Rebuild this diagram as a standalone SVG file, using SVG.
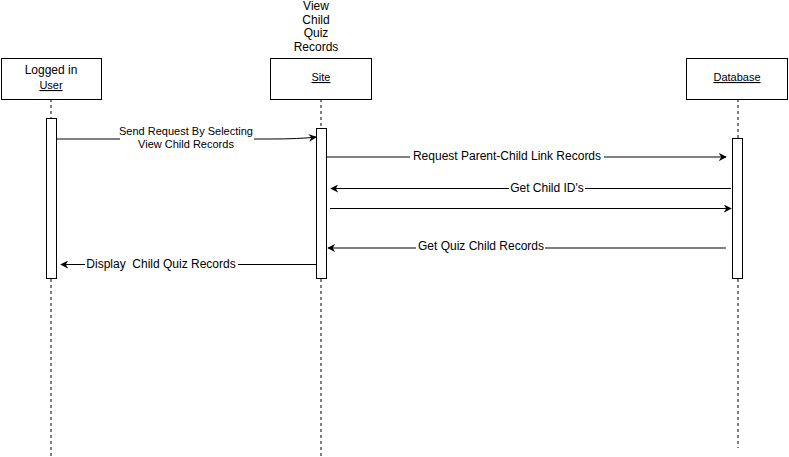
<svg xmlns="http://www.w3.org/2000/svg" width="789" height="457" viewBox="0 0 789 457">
<style>
text{font-family:"Liberation Sans",Arial,sans-serif;fill:#000;white-space:pre}
.box{fill:#fff;stroke:#000;stroke-width:1}
.life{stroke:#000;stroke-width:1;stroke-dasharray:3,3;fill:none}
.act{fill:#fff;stroke:#000;stroke-width:1}
.msg{stroke:#000;stroke-width:1;fill:none}
.gray{stroke:#808080;stroke-width:2;fill:none}
.lbl{font-size:11px;text-anchor:middle}
.big{font-size:12px;text-anchor:middle}
.bg{fill:#fff}
</style>
<defs>
<marker id="ah" viewBox="0 0 10 10" refX="9" refY="5" markerWidth="8" markerHeight="8" markerUnits="userSpaceOnUse" orient="auto">
<path d="M0,0 L10,5 L0,10 L3,5 Z" fill="#000"/>
</marker>
</defs>
<g id="lifelines">
<line class="life" x1="51" y1="99" x2="51" y2="457"/>
<line class="life" x1="321" y1="99" x2="321" y2="457"/>
<line class="life" x1="738" y1="99" x2="738" y2="448"/>
</g>
<g id="user">
<rect class="box" x="1.5" y="58.5" width="100" height="41"/>
<text class="big" x="51" y="74">Logged in</text>
<text class="lbl" x="51" y="89" text-decoration="underline">User</text>
<rect class="act" x="46.5" y="118.5" width="10" height="160"/>
</g>
<g id="site">
<text class="big" x="316" y="10">View</text>
<text class="big" x="316" y="23.5">Child</text>
<text class="big" x="316" y="37">Quiz</text>
<text class="big" x="316" y="51">Records</text>
<rect class="box" x="270.5" y="58.5" width="101" height="41"/>
<text class="lbl" x="321" y="81" text-decoration="underline">Site</text>
<rect class="act" x="316.5" y="128.5" width="10" height="150"/>
</g>
<g id="database">
<rect class="box" x="686.5" y="58.5" width="101" height="41"/>
<text class="lbl" x="737" y="81" text-decoration="underline">Database</text>
<rect class="act" x="732.5" y="138.5" width="10" height="140"/>
</g>
<g id="connectors">
<path class="msg" d="M57,139 L270,139 Q300,139 316,137" marker-end="url(#ah)"/>
<rect class="bg" x="120" y="124" width="134" height="26"/>
<text class="lbl" x="186" y="135">Send Request By Selecting</text>
<text class="lbl" x="186" y="148">View Child Records</text>
<line class="gray" x1="327" y1="157" x2="726" y2="157" marker-end="url(#ah)"/>
<rect class="bg" x="410" y="149" width="194" height="14"/>
<text class="big" x="507" y="160">Request Parent-Child Link Records</text>
<line class="msg" x1="731" y1="188.5" x2="331" y2="188.5" marker-end="url(#ah)"/>
<rect class="bg" x="509" y="181" width="76" height="14"/>
<text class="big" x="547" y="192">Get Child ID's</text>
<line class="msg" x1="330" y1="208.5" x2="731" y2="208.5" marker-end="url(#ah)"/>
<line class="gray" x1="726" y1="248" x2="328" y2="248" marker-end="url(#ah)"/>
<rect class="bg" x="416" y="240" width="129" height="14"/>
<text class="big" x="481" y="250">Get Quiz Child Records</text>
<line class="msg" x1="316" y1="264.5" x2="61" y2="264.5" marker-end="url(#ah)"/>
<rect class="bg" x="85" y="257" width="153" height="14"/>
<text class="big" x="161" y="268" xml:space="preserve">Display  Child Quiz Records</text>
</g>
</svg>
